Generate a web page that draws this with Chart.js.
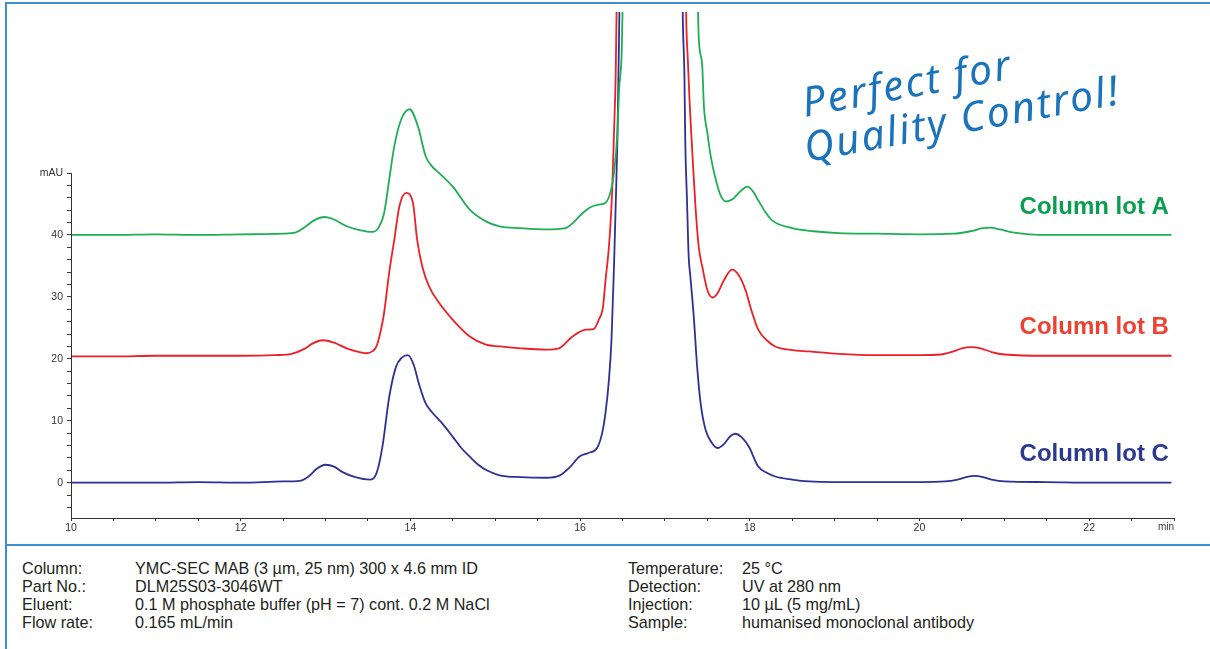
<!DOCTYPE html>
<html>
<head>
<meta charset="utf-8">
<script src="https://cdn.jsdelivr.net/npm/chart.js@4.4.1/dist/chart.umd.min.js"></script>
<style>
  html, body { margin:0; padding:0; background:#fff; }
  body { width:1210px; height:649px; position:relative; overflow:hidden; font-family:'Liberation Sans', Arial, sans-serif; }
  #wrap { position:absolute; left:0; top:0; width:1210px; height:545px; }
  .hline { position:absolute; height:2px; background:#3d8fd1; }
  .vline { position:absolute; width:2px; background:#3d8fd1; }
  .slogan { position:absolute; color:#1b74bb; font-family:'Noto Sans', sans-serif; font-style:italic; font-size:41px; line-height:41px; white-space:nowrap; transform-origin:0 88%; transform:rotate(-10.5deg); letter-spacing:2.2px; }
  .info { position:absolute; font-size:16.2px; line-height:18px; color:#231f20; white-space:nowrap; }
  .info span { position:absolute; }
</style>
</head>
<body>
<div id="wrap"><canvas id="c" width="1210" height="545"></canvas></div>
<div class="hline" style="left:5px; top:2px; width:1205px;"></div>
<div class="hline" style="left:5px; top:544px; width:1205px;"></div>
<div class="vline" style="left:5px; top:2px; height:647px;"></div>
<div class="slogan" style="left:805px; top:81px;">Perfect for</div>
<div class="slogan" style="left:807px; top:126px;">Quality Control!</div>
<div class="info" id="infoL" style="left:22px; top:559px;"></div>
<div class="info" id="infoR" style="left:628px; top:559px;"></div>
<script>
// ---- data (time in min, absorbance in mAU) ----
const seriesNames = ['Column lot A', 'Column lot B', 'Column lot C'];
const seriesBaselines = [40, 20.5, 0];

const lotA_t = [10.0,10.5,11.0,11.5,12.0,12.5,12.65,12.75,12.87,12.99,13.1,13.25,13.4,13.56,13.63,13.69,13.75,13.81,13.89,13.99,14.09,14.18,14.26,14.34,14.5,14.7,14.89,15.05,15.3,15.6,15.83,15.92,15.99,16.07,16.14,16.22,16.3,16.36,16.4,16.44,16.46,16.49,16.5,16.52,16.6,16.95,17.3,17.37,17.39,17.4,17.44,17.46,17.5,17.54,17.6,17.65,17.72,17.8,17.9,17.97,18.04,18.1,18.18,18.26,18.5,18.75,19.05,19.5,20.0,20.4,20.6,20.75,20.83,20.95,21.1,21.3,21.5,22.0,22.5,22.97];
const lotA_y = [40.0,40.0,40.1,40.0,40.1,40.2,40.4,41.2,42.4,42.9,42.5,41.4,40.8,40.5,41.3,43.5,48.9,54.3,58.6,60.3,57.5,52.7,51.0,50.0,47.8,44.1,42.2,41.4,41.1,40.9,41.1,42.0,43.0,44.0,44.6,44.9,45.2,47.0,50.0,56.5,63.4,69.4,75.9,90,180,420,180,90,75.9,71.5,67.2,60.7,56.5,52.7,48.9,46.6,45.4,45.8,47.2,47.8,47.0,45.6,43.8,42.4,41.1,40.6,40.3,40.2,40.1,40.2,40.6,41.1,41.2,40.9,40.4,40.1,40.0,40.0,40.0,40.0];

const lotB_t = [10.0,10.5,11.0,11.5,12.0,12.4,12.6,12.75,12.85,12.97,13.1,13.25,13.4,13.48,13.55,13.6,13.65,13.69,13.75,13.81,13.87,13.95,14.03,14.08,14.14,14.22,14.34,14.5,14.7,14.89,15.05,15.3,15.6,15.75,15.91,16.07,16.16,16.22,16.27,16.3,16.34,16.37,16.38,16.4,16.42,16.43,16.45,16.55,16.88,17.2,17.24,17.25,17.27,17.29,17.31,17.33,17.36,17.4,17.44,17.5,17.56,17.62,17.7,17.79,17.87,17.95,18.02,18.1,18.2,18.3,18.5,18.7,19.05,19.5,20.0,20.25,20.4,20.5,20.61,20.72,20.85,21.0,21.5,22.0,22.5,22.97];
const lotB_y = [20.4,20.4,20.5,20.5,20.5,20.6,20.8,21.6,22.5,23.0,22.6,21.7,21.1,20.9,21.2,22.0,24.5,27.4,33.9,39.2,44.6,46.8,45.2,39.2,34.9,31.7,29.0,26.3,23.6,22.3,22.0,21.7,21.5,21.7,23.6,24.7,24.8,26.3,28.4,32.7,38.1,44.6,47.8,56.5,66.2,75.9,90,180,420,180,90,75.9,68.3,61.8,56.5,51.6,44.6,37.9,34.9,31.1,29.9,30.6,32.8,34.4,33.5,31.1,27.8,24.7,23.0,22.0,21.4,21.2,20.8,20.6,20.6,20.7,21.2,21.7,21.9,21.7,21.1,20.7,20.5,20.5,20.5,20.5];

const lotC_t = [10.0,10.5,11.0,11.5,12.0,12.5,12.7,12.8,12.9,13.0,13.1,13.2,13.35,13.52,13.6,13.67,13.75,13.83,13.9,13.97,14.04,14.1,14.18,14.26,14.38,14.5,14.6,14.7,14.8,14.9,15.05,15.3,15.6,15.75,15.88,15.99,16.1,16.2,16.26,16.3,16.34,16.37,16.4,16.42,16.44,16.46,16.48,16.55,16.85,17.15,17.2,17.21,17.23,17.24,17.26,17.28,17.3,17.34,17.38,17.42,17.48,17.55,17.62,17.7,17.77,17.83,17.9,17.99,18.1,18.2,18.3,18.5,18.7,19.0,19.5,20.0,20.3,20.45,20.55,20.65,20.75,20.85,21.0,21.5,22.0,22.5,22.97];
const lotC_y = [0.0,0.0,0.0,0.1,0.0,0.2,0.3,1.0,2.3,2.9,2.6,1.7,0.9,0.5,1.5,5.8,13.8,18.7,20.2,20.6,19.0,16.0,12.8,11.3,9.5,7.4,5.6,4.2,2.9,2.0,1.2,0.9,0.8,1.1,2.5,4.2,4.8,5.6,8.0,11.3,16.6,23.0,35.0,45.0,55.4,72.6,95,180,420,180,90,75.9,65.6,54.9,45.7,36.5,33.3,26.8,18.7,12.9,8.5,6.5,5.6,6.3,7.5,7.9,7.4,5.8,2.6,1.6,1.0,0.5,0.2,0.1,0.1,0.1,0.2,0.5,0.9,1.1,0.9,0.5,0.2,0.1,0.0,0.0,0.0];

const xTickValues = [10,10.5,11,11.5,12,12.5,13,13.5,14,14.5,15,15.5,16,16.5,17,17.5,18,18.5,19,19.5,20,20.5,21,21.5,22,22.5,23];
const xTickLabels = {10:'10',12:'12',14:'14',16:'16',18:'18',20:'20',22:'22'};
const xUnitLabel = 'min';
const yTickValues = [-4,-2,0,2,4,6,8,10,12,14,16,18,20,22,24,26,28,30,32,34,36,38,40,42,44,46,48,50];
const yTickLabels = {0:'0',10:'10',20:'20',30:'30',40:'40',50:'mAU'};

// ---- styles ----
const lineColors = ['#1fae55', '#ec2027', '#2e3192'];
const labelColors = ['#0b9e50', '#ee4130', '#2b3990'];
const FONT = "'Liberation Sans', Arial, sans-serif";

function pts(t, y) { return t.map((v, i) => ({x: v, y: y[i]})); }

const seriesData = [pts(lotA_t, lotA_y), pts(lotB_t, lotB_y), pts(lotC_t, lotC_y)];

const overlay = {
  id: 'overlay',
  afterDraw(chart) {
    const ctx = chart.ctx, xs = chart.scales.x, ys = chart.scales.y;
    const ca = chart.chartArea;
    ctx.save();
    ctx.strokeStyle = '#333'; ctx.lineWidth = 1;
    ctx.beginPath();
    ctx.moveTo(Math.round(ca.left) + 0.5, ys.getPixelForValue(50));
    ctx.lineTo(Math.round(ca.left) + 0.5, ca.bottom);
    ctx.stroke();
    ctx.fillStyle = '#333';
    ctx.font = '10px ' + FONT;
    ctx.textAlign = 'right'; ctx.textBaseline = 'top';
    ctx.fillText(xUnitLabel, xs.getPixelForValue(23), ca.bottom + 4);
    ctx.font = 'bold 24px ' + FONT;
    ctx.textAlign = 'right'; ctx.textBaseline = 'middle';
    seriesNames.forEach((n, i) => {
      ctx.fillStyle = labelColors[i];
      ctx.fillText(n, xs.getPixelForValue(22.94), ys.getPixelForValue(seriesBaselines[i] + 4.5));
    });
    ctx.restore();
  }
};

new Chart(document.getElementById('c'), {
  type: 'line',
  data: {
    datasets: seriesData.map((d, i) => ({
      label: seriesNames[i],
      data: d,
      borderColor: lineColors[i],
      borderWidth: 1.8,
      pointRadius: 0,
      fill: false,
      cubicInterpolationMode: 'monotone'
    }))
  },
  options: {
    responsive: false,
    devicePixelRatio: 1,
    animation: false,
    events: [],
    layout: { padding: { left: 0, top: 12, right: 36, bottom: 0 } },
    plugins: { legend: { display: false }, tooltip: { enabled: false } },
    scales: {
      x: {
        type: 'linear', min: 10, max: 23,
        afterBuildTicks: s => { s.ticks = xTickValues.map(v => ({value: v})); },
        afterFit: s => { s.height = 27; },
        grid: { drawOnChartArea: false, drawTicks: true, tickLength: 3, tickColor: '#333' },
        border: { display: true, color: '#333', width: 1 },
        ticks: {
          autoSkip: false, maxRotation: 0, padding: 1, color: '#333',
          font: { family: FONT, size: 10.5 },
          callback: v => xTickLabels[v] || ''
        }
      },
      y: {
        type: 'linear', min: -5.7, max: 76,
        afterBuildTicks: s => { s.ticks = yTickValues.map(v => ({value: v})); },
        afterFit: s => { s.width = 71; },
        grid: { drawOnChartArea: false, drawTicks: true, tickLength: 4, tickColor: '#333' },
        border: { display: false },
        ticks: {
          autoSkip: false, padding: 4, color: '#333',
          font: { family: FONT, size: 10.5 },
          callback: v => yTickLabels[v] || ''
        }
      }
    }
  },
  plugins: [overlay]
});

// ---- conditions ----
const infoLeftKeys = ['Column:', 'Part No.:', 'Eluent:', 'Flow rate:'];
const infoLeftVals = ['YMC-SEC MAB (3 µm, 25 nm) 300 x 4.6 mm ID', 'DLM25S03-3046WT', '0.1 M phosphate buffer (pH = 7) cont. 0.2 M NaCl', '0.165 mL/min'];
const infoRightKeys = ['Temperature:', 'Detection:', 'Injection:', 'Sample:'];
const infoRightVals = ['25 °C', 'UV at 280 nm', '10 µL (5 mg/mL)', 'humanised monoclonal antibody'];
function fillInfo(id, keys, vals, valX) {
  const el = document.getElementById(id);
  keys.forEach((k, i) => {
    const a = document.createElement('span'); a.textContent = k; a.style.left = '0px'; a.style.top = (i * 18) + 'px';
    const b = document.createElement('span'); b.textContent = vals[i]; b.style.left = valX + 'px'; b.style.top = (i * 18) + 'px';
    el.appendChild(a); el.appendChild(b);
  });
}
fillInfo('infoL', infoLeftKeys, infoLeftVals, 113);
fillInfo('infoR', infoRightKeys, infoRightVals, 114);
</script>
</body>
</html>
